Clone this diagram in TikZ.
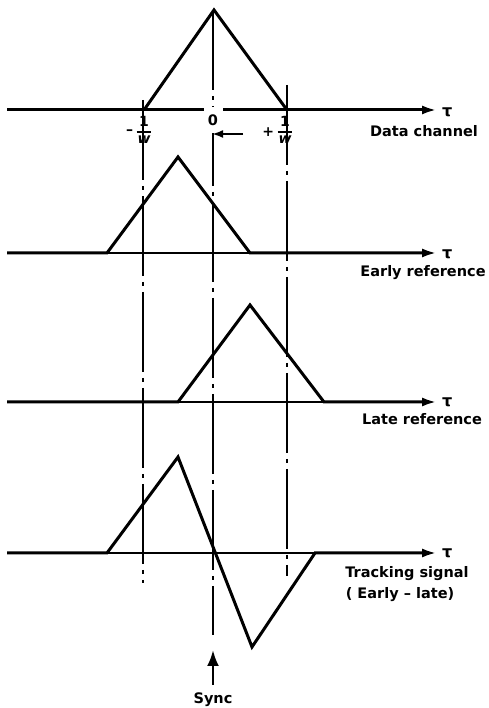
\documentclass[tikz,border=0pt]{standalone}
\usepackage{fontspec}
\setmainfont{DejaVu Sans}
\newfontfamily\lblfont{DejaVu Sans Bold}
\usetikzlibrary{arrows.meta, positioning, calc}
\newcommand{\overw}{%
  {\setlength{\arrayrulewidth}{1.6pt}\renewcommand{\arraystretch}{1.05}%
   \begin{tabular}{@{\hspace{1pt}}c@{\hspace{1pt}}}1\\\hline\itshape w\end{tabular}}}

\begin{document}
\begin{tikzpicture}[x=1pt, y=1pt,
    sig/.style={line width=3pt, line join=miter, -{Latex[length=15pt, width=9pt]}},
    base/.style={line width=1.4pt},
    guide/.style={line width=1.4pt, dash pattern=on 80pt off 6pt on 4pt off 6pt},
    lbl/.style={font=\lblfont\fontsize{14.5}{18}\selectfont, inner sep=0pt, anchor=base},
    tau/.style={font=\lblfont\fontsize{16}{16}\selectfont, inner sep=0pt},
    frac/.style={font=\lblfont\fontsize{14}{15}\selectfont, inner sep=0pt},
    pointer/.style={line width=2.6pt, -{Latex[length=16pt, width=12pt]}},
  ]
  \useasboundingbox (0,0) rectangle (488,708);

  % guide lines at -1/w, 0, +1/w
  \coordinate (glT) at (143,608);
  \coordinate (glB) at (143,125);
  \coordinate (gcT) at (213,698);
  \coordinate (gcB) at (213,73);
  \coordinate (grT) at (287,623);
  \coordinate (grB) at (287,132);
  \draw[guide] (glT) -- (glB);
  \draw[guide] (gcT) -- (gcB);
  \draw[guide] (grT) -- (grB);

  % data channel
  \coordinate (d0) at (7,598);
  \coordinate (dtip) at (437,598);
  \coordinate (dA) at (144,598);
  \coordinate (dP) at (214,698);
  \coordinate (dB) at (287,598);
  \draw[sig] (d0) -- (dtip);
  \draw[sig, -] (dA) -- (dP) -- (dB);
  \node[tau, right=5pt of dtip, yshift=-2pt] (dtau) {τ};
  \node[lbl] (dlbl) at (424,571) {Data channel};
  \node[lbl, anchor=center, fill=white, minimum width=19pt, minimum height=26pt] (zero) at (213,588) {0};
  \coordinate (shiftA) at (243,574);
  \coordinate (shiftB) at (212,574);
  \draw[line width=2.2pt, -{Latex[length=11pt, width=8pt]}] (shiftA) -- (shiftB);
  \node[frac] (mw) at (144,576) {\overw};
  \node[frac, left=3pt of mw] (mws) {–};
  \node[frac] (pw) at (285,576) {\overw};
  \node[frac, left=3pt of pw] (pws) {+};

  % early reference
  \coordinate (e0) at (7,455);
  \coordinate (eA) at (107,455);
  \coordinate (eP) at (178,551);
  \coordinate (eB) at (250,455);
  \coordinate (etip) at (437,455);
  \draw[base] (eA) -- (eB);
  \draw[sig] (e0) -- (eA) -- (eP) -- (eB) -- (etip);
  \node[tau, right=5pt of etip, yshift=-1pt] (etau) {τ};
  \node[lbl] (elbl) at (423,431) {Early reference};

  % late reference
  \coordinate (l0) at (7,306);
  \coordinate (lA) at (178,306);
  \coordinate (lP) at (250,403);
  \coordinate (lB) at (324,306);
  \coordinate (ltip) at (437,306);
  \draw[base] (lA) -- (lB);
  \draw[sig] (l0) -- (lA) -- (lP) -- (lB) -- (ltip);
  \node[tau, right=5pt of ltip] (ltau) {τ};
  \node[lbl] (llbl) at (422,283) {Late reference};

  % tracking signal
  \coordinate (t0) at (7,155);
  \coordinate (tA) at (107,155);
  \coordinate (tP) at (178,251);
  \coordinate (tN) at (252,61);
  \coordinate (tB) at (315,155);
  \coordinate (ttip) at (437,155);
  \draw[base] (tA) -- (tB);
  \draw[sig] (t0) -- (tA) -- (tP) -- (tN) -- (tB) -- (ttip);
  \node[tau, right=5pt of ttip] (ttau) {τ};
  \node[lbl] (tlbl) at (407,130) {Tracking signal};
  \node[lbl] (tlbl2) at (400,109) {( Early – late)};

  % sync marker
  \coordinate (syncA) at (213,23);
  \coordinate (syncB) at (213,58);
  \draw[pointer] (syncA) -- (syncB);
  \node[lbl] (sync) at (213,5) {Sync};
\end{tikzpicture}
\end{document}
